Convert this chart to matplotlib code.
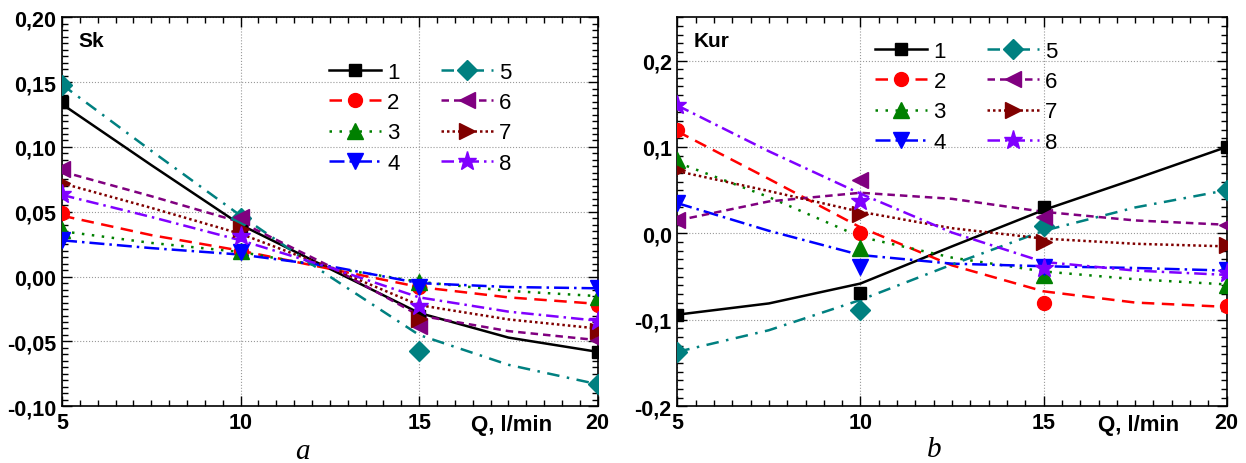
import matplotlib
matplotlib.use('Agg')
import matplotlib.pyplot as plt
from matplotlib.lines import Line2D
from matplotlib.ticker import MultipleLocator, FuncFormatter

plt.rcParams['font.family'] = ['Liberation Sans', 'DejaVu Sans']

# flow rate, l/min
q = [5, 10, 15, 20]
# points where the fitted curves were read
q_fit = [5, 7.5, 10, 12.5, 15, 17.5, 20]
labels = ['1', '2', '3', '4', '5', '6', '7', '8']

# skewness, measured points
sk_pts = [
    [0.135, 0.036, -0.030, -0.058],
    [0.049, 0.020, -0.008, -0.022],
    [0.036, 0.020, -0.004, -0.016],
    [0.028, 0.019, -0.008, -0.009],
    [0.148, 0.045, -0.057, -0.083],
    [0.083, 0.046, -0.038, -0.049],
    [0.072, 0.037, -0.033, -0.042],
    [0.064, 0.031, -0.023, -0.034],
]
# skewness, fitted curves
sk_fit = [
    [0.133, 0.086, 0.040, 0.006, -0.028, -0.047, -0.058],
    [0.047, 0.032, 0.020, 0.006, -0.008, -0.016, -0.021],
    [0.035, 0.026, 0.019, 0.007, -0.004, -0.011, -0.015],
    [0.028, 0.022, 0.017, 0.008, -0.005, -0.008, -0.009],
    [0.148, 0.097, 0.047, 0.000, -0.045, -0.068, -0.083],
    [0.081, 0.062, 0.042, 0.008, -0.030, -0.042, -0.049],
    [0.072, 0.053, 0.033, 0.007, -0.022, -0.033, -0.040],
    [0.063, 0.046, 0.028, 0.007, -0.016, -0.027, -0.034],
]

# kurtosis, measured points
kur_pts = [
    [-0.094, -0.069, 0.030, 0.100],
    [0.120, 0.000, -0.081, -0.084],
    [0.085, -0.017, -0.048, -0.060],
    [0.035, -0.039, -0.039, -0.042],
    [-0.137, -0.089, 0.008, 0.050],
    [0.016, 0.062, 0.019, 0.010],
    [0.073, 0.023, -0.010, -0.013],
    [0.149, 0.037, -0.040, -0.046],
]
# kurtosis, fitted curves
kur_fit = [
    [-0.094, -0.081, -0.058, -0.015, 0.027, 0.063, 0.100],
    [0.118, 0.063, 0.007, -0.037, -0.067, -0.080, -0.085],
    [0.082, 0.042, -0.004, -0.028, -0.044, -0.053, -0.059],
    [0.035, 0.003, -0.025, -0.035, -0.038, -0.040, -0.043],
    [-0.137, -0.112, -0.077, -0.036, 0.003, 0.030, 0.050],
    [0.015, 0.037, 0.047, 0.040, 0.025, 0.015, 0.010],
    [0.072, 0.049, 0.025, 0.006, -0.006, -0.012, -0.015],
    [0.148, 0.095, 0.046, 0.001, -0.033, -0.043, -0.048],
]

colors = ['black', '#ff0000', '#008000', '#0000ff', '#008080', '#800080', '#800000', '#8000ff']
markers = ['s', 'o', '^', 'v', 'D', '<', '>', '*']
msizes = [9, 10, 11, 11, 10, 12, 12, 14]
dashes = ['-', (0, (5, 3)), (0, (1, 3)), (0, (6, 2, 1, 2)),
          (0, (5, 3, 1, 3)), (0, (3, 2)), (0, (1, 1.2)), (0, (5, 2, 1, 2))]


def comma(fmt):
    return FuncFormatter(lambda v, p: (fmt % v).replace('.', ','))


def panel(ax, pts, fit, name, ylim, ystep, yminor, yfmt, leg_anchor):
    for i in range(8):
        ax.plot(q_fit, fit[i], color=colors[i], ls=dashes[i], lw=1.8, zorder=2)
        ax.plot(q, pts[i], ls='none', marker=markers[i], ms=msizes[i],
                color=colors[i], zorder=3)
    ax.set_xlim(5, 20)
    ax.set_ylim(*ylim)
    ax.xaxis.set_major_locator(MultipleLocator(5))
    ax.xaxis.set_minor_locator(MultipleLocator(0.5))
    ax.yaxis.set_major_locator(MultipleLocator(ystep))
    ax.yaxis.set_minor_locator(MultipleLocator(yminor))
    ax.yaxis.set_major_formatter(comma(yfmt))
    ax.tick_params(which='both', direction='in', top=True, right=True,
                   labelsize=15.5, width=1.0)
    ax.tick_params(which='major', length=7, pad=4)
    ax.tick_params(which='minor', length=4)
    for t in ax.get_xticklabels() + ax.get_yticklabels():
        t.set_fontweight('bold')
    for s in ax.spines.values():
        s.set_linewidth(1.2)
    ax.grid(True, which='major', ls=':', color='#999999', lw=0.8)
    ax.text(0.03, 0.965, name, transform=ax.transAxes, fontsize=15,
            fontweight='bold', va='top', ha='left')
    ax.text(0.84, -0.02, 'Q, l/min', transform=ax.transAxes, fontsize=16,
            fontweight='bold', va='top', ha='center')
    handles = [Line2D([], [], color=colors[i], ls=dashes[i], lw=1.8,
                      marker=markers[i], ms=msizes[i]) for i in range(8)]
    ax.legend(handles, labels, ncol=2, loc='upper left', bbox_to_anchor=leg_anchor,
              frameon=False, fontsize=16, handlelength=2.35, handletextpad=0.27,
              columnspacing=1.85, labelspacing=0.42, borderpad=0.2)


fig = plt.figure(figsize=(12.46, 4.64), dpi=100)
ax1 = fig.add_axes([0.0498, 0.1222, 0.4299, 0.8384])
ax2 = fig.add_axes([0.5436, 0.1222, 0.4409, 0.8384])

panel(ax1, sk_pts, sk_fit, 'Sk', (-0.10, 0.20), 0.05, 0.005, '%.2f', (0.4695, 0.926))
panel(ax2, kur_pts, kur_fit, 'Kur', (-0.2, 0.25), 0.1, 0.01, '%.1f', (0.332, 0.98))

fig.text(0.243, 0.026, 'a', fontsize=21, style='italic', family='Liberation Serif',
         ha='center', va='center')
fig.text(0.750, 0.030, 'b', fontsize=21, style='italic', family='Liberation Serif',
         ha='center', va='center')

fig.savefig('out.png', dpi=100)
